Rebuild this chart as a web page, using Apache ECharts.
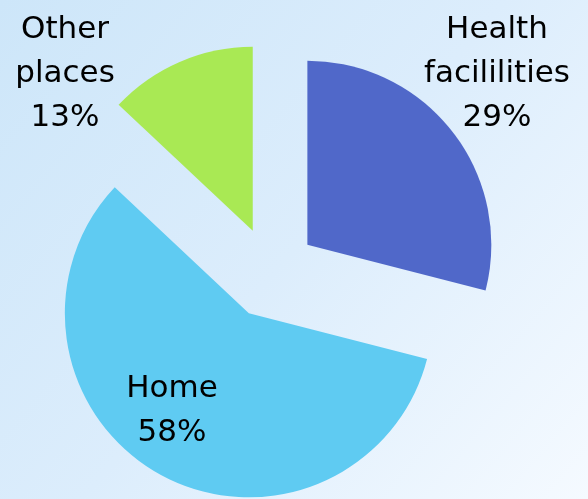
<!DOCTYPE html>
<html>
<head>
    <meta charset="utf-8">
    <script src="https://cdnjs.cloudflare.com/ajax/libs/echarts/6.0.0/echarts.min.js"></script>
    <style>
        html, body { margin: 0; padding: 0; }
    </style>
</head>
<body>
<div id="chart" style="width: 588px; height: 499px;"></div>
<script type="text/javascript">
    // Data
    var places = ['Health\nfacililities', 'Home', 'Other\nplaces'];
    var shares = [29, 58, 13];
    var colors = ['#5068c9', '#5fcbf2', '#a9e954'];

    // label spots (x, y) by slice index
    var labelSpots = [[497, 74], [172, 411], [65, 74]];

    var pieData = places.map(function (name, i) {
        return {
            name: name,
            value: shares[i],
            selected: true,
            itemStyle: { color: colors[i] }
        };
    });

    // slice labels as text elements
    var labels = places.map(function (name, i) {
        return {
            type: 'text',
            z: 100,
            x: labelSpots[i][0],
            y: labelSpots[i][1],
            style: {
                text: name + '\n' + shares[i] + '%',
                font: '31px "DejaVu Sans"',
                lineHeight: 44,
                fill: '#000',
                align: 'center',
                verticalAlign: 'middle'
            }
        };
    });

    var chart = echarts.init(document.getElementById('chart'));
    var option = {
        backgroundColor: new echarts.graphic.LinearGradient(0, 0, 1, 1, [
            { offset: 0, color: '#cde6f9' },
            { offset: 0.5, color: '#dcedfc' },
            { offset: 1, color: '#f5faff' }
        ]),
        animation: false,
        graphic: { elements: labels, z: 100 },
        series: [{
            type: 'pie',
            z: 2,
            center: [271, 273],
            radius: 184,
            startAngle: 90,
            selectedMode: 'multiple',
            selectedOffset: 46,
            data: pieData,
            label: { show: false },
            labelLine: { show: false },
            emphasis: { disabled: true },
            select: { itemStyle: { borderWidth: 0 } }
        }]
    };
    chart.setOption(option);
</script>
</body>
</html>
